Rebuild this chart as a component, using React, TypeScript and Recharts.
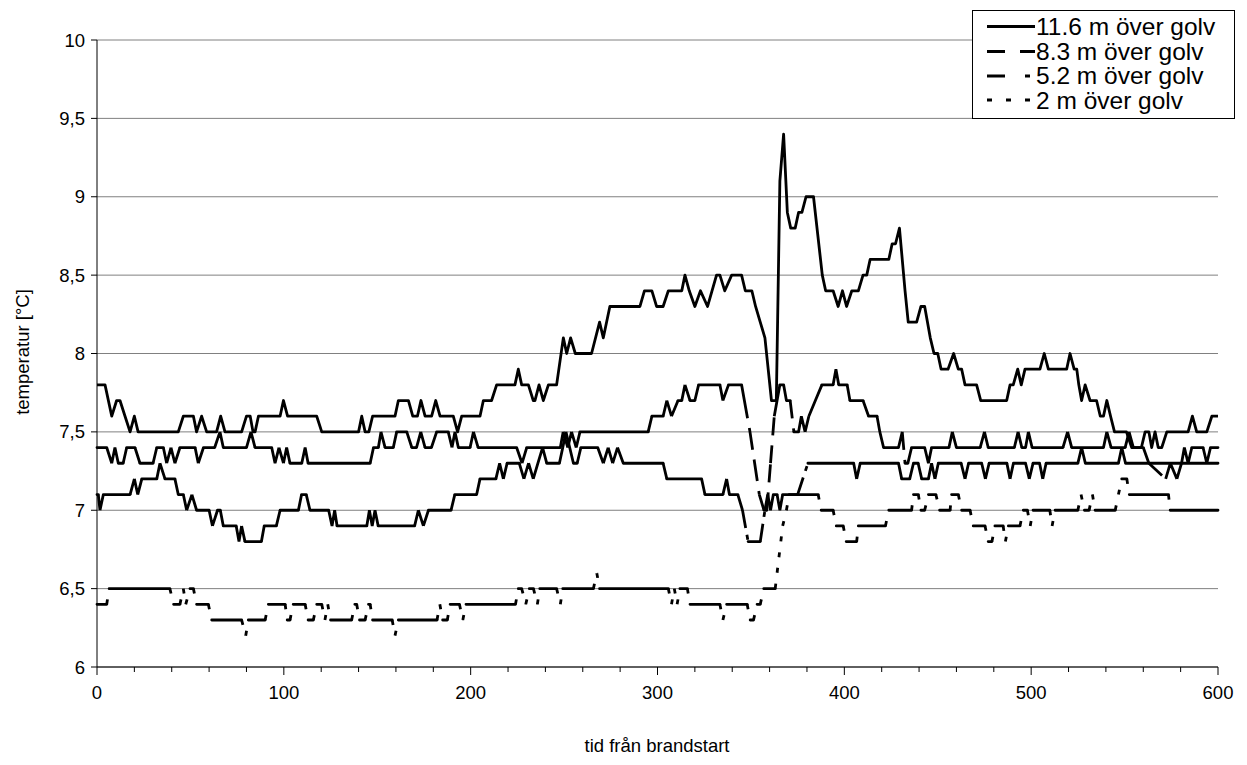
import { CartesianGrid, Line, LineChart, XAxis, YAxis } from "recharts"

const FONT = "'Liberation Sans', Arial, Helvetica, sans-serif"

const xTicks = [0, 20, 40, 60, 80, 100, 120, 140, 160, 180, 200, 220, 240, 260, 280, 300, 320, 340, 360, 380, 400, 420, 440, 460, 480, 500, 520, 540, 560, 580, 600]
const yTicks = [6, 6.5, 7, 7.5, 8, 8.5, 9, 9.5, 10]

const names = ["11.6 m över golv", "8.3 m över golv", "5.2 m över golv", "2 m över golv"]

// [time, temperature] at the corners of each trace
const h116: [number, number][] = [
  [0, 7.8], [4.3, 7.8], [7.9, 7.6], [10.5, 7.7], [12.3, 7.7], [15, 7.6], [17.7, 7.5], [20, 7.6], [22, 7.5], [43.5, 7.5],
  [46.2, 7.6], [51.6, 7.6], [53.3, 7.5], [56, 7.6], [58.7, 7.5], [64, 7.5], [66.2, 7.6], [68.5, 7.5], [77.4, 7.5], [80, 7.6],
  [82, 7.6], [83.5, 7.5], [84.6, 7.5], [86.4, 7.6], [98, 7.6], [99.8, 7.7], [102, 7.6], [117.6, 7.6], [120.3, 7.5], [140, 7.5],
  [141.7, 7.6], [143.5, 7.5], [145.5, 7.5], [147.5, 7.6], [159.5, 7.6], [161.3, 7.7], [166.7, 7.7], [169, 7.6], [171.5, 7.6], [173.4, 7.7],
  [175.6, 7.6], [179.1, 7.6], [181.3, 7.7], [183.6, 7.6], [190.7, 7.6], [193, 7.5], [195.2, 7.6], [205, 7.6], [206.8, 7.7], [211.2, 7.7],
  [213.9, 7.8], [223.7, 7.8], [225.5, 7.9], [227.3, 7.8], [230.9, 7.8], [233.5, 7.7], [234.4, 7.7], [236.6, 7.8], [238.9, 7.7], [241.6, 7.8],
  [246, 7.8], [249.6, 8.1], [251.4, 8.0], [253.5, 8.1], [256, 8.0], [264.7, 8.0], [269, 8.2], [271, 8.1], [274.5, 8.3], [290.6, 8.3],
  [293, 8.4], [297, 8.4], [299.5, 8.3], [303, 8.3], [305.8, 8.4], [313, 8.4], [314.7, 8.5], [317, 8.4], [320, 8.3], [323, 8.4],
  [326.8, 8.3], [331.6, 8.5], [333.4, 8.5], [336, 8.4], [339.7, 8.5], [345, 8.5], [347, 8.4], [350.5, 8.4], [352.5, 8.3], [355, 8.2],
  [357.5, 8.1], [361, 7.7], [363.6, 7.7], [365.5, 9.1], [367.5, 9.4], [369.5, 8.9], [371.3, 8.8], [373.7, 8.8], [375.5, 8.9], [377.3, 8.9],
  [379.5, 9.0], [383.5, 9.0], [388.2, 8.5], [390, 8.4], [394, 8.4], [396.7, 8.3], [399, 8.4], [401.2, 8.3], [404, 8.4], [407.5, 8.4],
  [410, 8.5], [412, 8.5], [413.8, 8.6], [423.8, 8.6], [425.6, 8.7], [427.4, 8.7], [429.5, 8.8], [432.5, 8.4], [434.2, 8.2], [438.7, 8.2],
  [441, 8.3], [443, 8.3], [446, 8.1], [448, 8.0], [450, 8.0], [451.8, 7.9], [455.5, 7.9], [458.5, 8.0], [461, 7.9], [462.8, 7.9],
  [464.6, 7.8], [470.8, 7.8], [473, 7.7], [486.9, 7.7], [488.7, 7.8], [490.4, 7.8], [492.8, 7.9], [494.7, 7.8], [496.7, 7.9], [504.7, 7.9],
  [507, 8.0], [509.2, 7.9], [519, 7.9], [520.8, 8.0], [523, 7.9], [524.4, 7.9], [525.5, 7.8], [527, 7.7], [528.9, 7.8], [531.5, 7.7],
  [535, 7.7], [537, 7.6], [538.7, 7.6], [540.5, 7.7], [542.5, 7.6], [544.6, 7.5], [551, 7.5], [553.8, 7.4], [559, 7.4], [561, 7.5],
  [563, 7.5], [564.5, 7.4], [566.3, 7.5], [568, 7.4], [569.9, 7.4], [572.6, 7.5], [584, 7.5], [586.3, 7.6], [588.6, 7.5], [594, 7.5],
  [596.7, 7.6], [600, 7.6],
]

const h83: [number, number][] = [
  [0, 7.4], [5.2, 7.4], [7.9, 7.3], [9.6, 7.4], [11.4, 7.3], [14, 7.3], [15.9, 7.4], [20.3, 7.4], [23, 7.3], [30, 7.3],
  [32, 7.4], [35.5, 7.4], [37.3, 7.3], [39.6, 7.4], [41.7, 7.3], [44.4, 7.4], [52.5, 7.4], [54.2, 7.3], [57, 7.4], [63, 7.4],
  [65.8, 7.5], [67.6, 7.4], [80, 7.4], [82.4, 7.5], [84.6, 7.4], [93.5, 7.4], [95.3, 7.3], [97.4, 7.4], [99.8, 7.3], [101.5, 7.4],
  [103.3, 7.3], [109.6, 7.3], [111.4, 7.4], [113, 7.3], [146.2, 7.3], [148, 7.4], [150.6, 7.4], [152, 7.5], [154.2, 7.4], [158.6, 7.4],
  [160.4, 7.5], [165.8, 7.5], [168.5, 7.4], [171, 7.4], [173.3, 7.5], [175.6, 7.4], [179, 7.4], [181.8, 7.5], [188, 7.5], [190, 7.4],
  [191.6, 7.5], [193.4, 7.4], [199.7, 7.4], [201.5, 7.5], [204, 7.4], [224.6, 7.4], [227.5, 7.3], [230, 7.4], [248, 7.4], [249.5, 7.5],
  [252, 7.4], [254, 7.5], [256.5, 7.4], [258.5, 7.5], [295, 7.5], [297, 7.6], [303, 7.6], [305, 7.7], [307.5, 7.6], [311, 7.7],
  [313, 7.7], [314.7, 7.8], [317.4, 7.7], [320, 7.7], [322, 7.8], [333.4, 7.8], [335, 7.7], [338, 7.8], [345, 7.8], [346.5, 7.7],
  [349.5, 7.5], [352, 7.3], [354.5, 7.1], [357, 7.0], [358.5, 7.0], [360.5, 7.3], [362.5, 7.6], [364, 7.7], [365.5, 7.8], [367.5, 7.8],
  [369, 7.7], [371, 7.7], [373, 7.5], [375.5, 7.5], [377, 7.6], [379, 7.5], [381, 7.6], [384.5, 7.7], [388, 7.8], [394, 7.8],
  [395.5, 7.9], [397, 7.8], [401.5, 7.8], [403, 7.7], [410, 7.7], [413, 7.6], [417.5, 7.6], [419, 7.5], [421, 7.4], [429, 7.4],
  [431, 7.5], [432.5, 7.3], [434, 7.3], [436, 7.4], [443, 7.4], [445, 7.3], [446.7, 7.4], [456, 7.4], [457.8, 7.5], [460, 7.4],
  [472.7, 7.4], [475, 7.5], [477, 7.4], [491, 7.4], [493, 7.5], [495, 7.4], [497, 7.4], [498.5, 7.5], [500.5, 7.4], [517, 7.4],
  [519.5, 7.5], [521.7, 7.4], [538.7, 7.4], [540.5, 7.5], [542.8, 7.4], [550.3, 7.4], [552.4, 7.5], [554.7, 7.4], [560, 7.4], [563, 7.3],
  [572, 7.2], [574.5, 7.3], [578, 7.2], [580.5, 7.3], [582, 7.4], [584, 7.3], [586, 7.4], [592, 7.4], [594, 7.3], [596, 7.4],
  [600, 7.4],
]

const h52: [number, number][] = [
  [0, 7.1], [0.7, 7.1], [1.6, 7.0], [3.4, 7.1], [17.7, 7.1], [20, 7.2], [21.8, 7.1], [24, 7.2], [32, 7.2], [33.7, 7.3],
  [36.4, 7.2], [41.7, 7.2], [43.5, 7.1], [46.2, 7.1], [48, 7.0], [50.8, 7.1], [53.3, 7.0], [60, 7.0], [61.8, 6.9], [64.5, 7.0],
  [66, 7.0], [67.6, 6.9], [74.5, 6.9], [76, 6.8], [77.4, 6.9], [79.2, 6.8], [88, 6.8], [89.5, 6.9], [96, 6.9], [98, 7.0],
  [107.8, 7.0], [109.5, 7.1], [112, 7.1], [114, 7.0], [124, 7.0], [125.8, 6.9], [127.2, 7.0], [128.5, 6.9], [144.4, 6.9], [145.8, 7.0],
  [147.3, 6.9], [148.8, 7.0], [150.5, 6.9], [170, 6.9], [172, 7.0], [174.7, 6.9], [177.4, 7.0], [189.5, 7.0], [191.5, 7.1], [203.2, 7.1],
  [205, 7.2], [213.5, 7.2], [215.5, 7.3], [217.5, 7.2], [219.5, 7.3], [226, 7.3], [228.5, 7.2], [231, 7.3], [233.5, 7.2], [236, 7.3],
  [238.5, 7.4], [240.7, 7.3], [247.5, 7.3], [249.3, 7.4], [251, 7.5], [253, 7.4], [255, 7.3], [257, 7.3], [259, 7.4], [268, 7.4],
  [271, 7.3], [273.6, 7.4], [276, 7.3], [278.6, 7.4], [281.7, 7.3], [303, 7.3], [305, 7.2], [323.6, 7.2], [325.4, 7.1], [335, 7.1],
  [337, 7.2], [338.5, 7.1], [343, 7.1], [345.5, 7.0], [348.5, 6.8], [355, 6.8], [357.5, 7.0], [359, 7.1], [360.5, 7.0], [362, 7.1],
  [364, 7.1], [365.5, 7.0], [367, 7.1], [375, 7.1], [380.5, 7.3], [405, 7.3], [406.6, 7.2], [408.5, 7.3], [429, 7.3], [430.7, 7.2],
  [435, 7.2], [437, 7.3], [439.5, 7.3], [441.4, 7.2], [445, 7.2], [446.7, 7.3], [448.5, 7.2], [450.3, 7.3], [462.5, 7.3], [464.6, 7.2],
  [466.5, 7.3], [473.5, 7.3], [475.5, 7.2], [477.5, 7.3], [487, 7.3], [488.7, 7.2], [490.5, 7.3], [497, 7.3], [499, 7.2], [501, 7.3],
  [504.5, 7.3], [506.2, 7.2], [508, 7.3], [525, 7.3], [527, 7.4], [529, 7.3], [546.7, 7.3], [548.5, 7.4], [550.5, 7.3], [600, 7.3],
]

const h2: [number, number][] = [
  [0, 6.4], [5.2, 6.4], [6.5, 6.5], [39, 6.5], [41, 6.4], [44.4, 6.4], [46.2, 6.5], [47.5, 6.4], [49.8, 6.5], [51.6, 6.5],
  [53.3, 6.4], [59.6, 6.4], [61.4, 6.3], [77.4, 6.3], [79.6, 6.2], [81, 6.3], [90, 6.3], [91.7, 6.4], [100.7, 6.4], [101.8, 6.3],
  [103.3, 6.3], [105, 6.4], [111.4, 6.4], [113, 6.3], [115.8, 6.3], [117.6, 6.4], [120.3, 6.4], [122, 6.3], [123.5, 6.4], [125, 6.3],
  [136.3, 6.3], [138, 6.4], [139, 6.4], [140.5, 6.3], [143.5, 6.3], [145.3, 6.4], [146.2, 6.4], [147.5, 6.3], [158, 6.3], [159.5, 6.2],
  [161.3, 6.3], [182, 6.3], [183.5, 6.4], [185, 6.3], [187.5, 6.3], [189, 6.4], [194, 6.4], [195.8, 6.3], [197.5, 6.4], [224, 6.4],
  [225.5, 6.5], [227.3, 6.5], [229.5, 6.4], [231.4, 6.5], [233.6, 6.5], [235.7, 6.4], [237, 6.5], [246, 6.5], [248, 6.4], [249.3, 6.5],
  [265.7, 6.5], [267.5, 6.6], [269, 6.5], [305.8, 6.5], [307.5, 6.4], [309, 6.5], [310.5, 6.4], [312, 6.5], [316, 6.5], [317.4, 6.4],
  [333.4, 6.4], [335, 6.3], [337, 6.4], [348, 6.4], [349.6, 6.3], [351.4, 6.3], [353.3, 6.4], [355, 6.4], [356.9, 6.5], [363, 6.5],
  [365, 6.7], [367, 6.9], [369, 7.0], [370.5, 7.1], [386, 7.1], [387.6, 7.0], [394, 7.0], [395.7, 6.9], [399.4, 6.9], [401, 6.8],
  [406.6, 6.8], [407.5, 6.9], [422, 6.9], [423.8, 7.0], [436, 7.0], [437, 7.1], [439.6, 7.1], [441, 7.0], [443, 7.0], [445, 7.1],
  [449, 7.1], [451, 7.0], [456.6, 7.0], [457.4, 7.1], [461, 7.1], [462.8, 7.0], [467.3, 7.0], [469, 6.9], [475.3, 6.9], [477, 6.8],
  [479, 6.8], [480.6, 6.9], [485, 6.9], [486.2, 6.8], [487.8, 6.9], [494, 6.9], [495.8, 7.0], [498, 7.0], [499.5, 6.9], [501, 7.0],
  [510, 7.0], [511.2, 6.9], [512.8, 7.0], [525, 7.0], [526.7, 7.1], [528.5, 7.0], [531, 7.0], [532.8, 7.1], [534.2, 7.0], [545, 7.0],
  [546.7, 7.1], [548.5, 7.2], [551.2, 7.2], [552.5, 7.1], [573.5, 7.1], [574.4, 7.0], [600, 7.0],
]

const series = [h116, h83, h52, h2]
// dash patterns: legend sample, and the rising/falling parts of the trace
const legendDash = ["", "18 15", "18 20 5 10", "5 14"]
const slopeDash = ["", "18 10", "18 7 5 7", "5 11"]

type Row = { t: number; v: number | null }

// every segment becomes its own sub-path so that the dash pattern restarts on each one;
// flat runs are drawn solid, steps get the series dash
function splitSegments(pts: [number, number][]) {
  const flat: Row[] = []
  const slope: Row[] = []
  for (let i = 0; i < pts.length - 1; i++) {
    const [t0, v0] = pts[i]
    const [t1, v1] = pts[i + 1]
    const target = v0 === v1 ? flat : slope
    target.push({ t: t0, v: v0 }, { t: t1, v: v1 }, { t: t1, v: null })
  }
  return { flat, slope }
}

const toRows = (pts: [number, number][]): Row[] => pts.map(([t, v]) => ({ t, v }))

function XTick({ x, y, payload }: any) {
  const major = payload.value % 100 === 0
  return (
    <g>
      <line x1={x} x2={x} y1={y} y2={y + (major ? 8 : 5)} stroke="#000" />
      {major && (
        <text x={x} y={y + 32} textAnchor="middle" fontSize={18.5} fontFamily={FONT} fill="#000">
          {payload.value}
        </text>
      )}
    </g>
  )
}

function YTick({ x, y, payload }: any) {
  return (
    <g>
      <line x1={x - 6} x2={x} y1={y} y2={y} stroke="#000" />
      <text x={x - 12} y={y + 6.5} textAnchor="end" fontSize={18.5} fontFamily={FONT} fill="#000">
        {String(payload.value).replace(".", ",")}
      </text>
    </g>
  )
}

export default function App() {
  const lines: any[] = []
  series.forEach((s, i) => {
    if (i === 0) {
      lines.push(
        <Line
          key="s0"
          data={toRows(s)}
          dataKey="v"
          name={names[0]}
          type="linear"
          stroke="#000"
          strokeWidth={2.8}
          strokeLinejoin="round"
          dot={false}
          activeDot={false}
          isAnimationActive={false}
        />
      )
      return
    }
    const { flat, slope } = splitSegments(s)
    lines.push(
      <Line
        key={`f${i}`}
        data={flat}
        dataKey="v"
        name={names[i]}
        type="linear"
        stroke="#000"
        strokeWidth={2.8}
        strokeLinecap="round"
        dot={false}
        activeDot={false}
        isAnimationActive={false}
      />,
      <Line
        key={`s${i}`}
        data={slope}
        dataKey="v"
        name={names[i]}
        legendType="none"
        type="linear"
        stroke="#000"
        strokeWidth={2.8}
        strokeDasharray={slopeDash[i]}
        dot={false}
        activeDot={false}
        isAnimationActive={false}
      />
    )
  })

  return (
    <div style={{ position: "absolute", left: 0, top: 0, width: 1247, height: 765, background: "#fff" }}>
      <LineChart width={1247} height={765} margin={{ top: 40, right: 29, bottom: 0, left: 0 }}>
        <CartesianGrid vertical={false} stroke="#808080" strokeWidth={1} />
        <XAxis
          dataKey="t"
          type="number"
          domain={[0, 600]}
          ticks={xTicks}
          interval={0}
          height={98}
          tickSize={0}
          tickMargin={0}
          tickLine={false}
          tick={<XTick />}
          axisLine={{ stroke: "#000" }}
        />
        <YAxis
          type="number"
          domain={[6, 10]}
          ticks={yTicks}
          interval={0}
          width={97}
          tickSize={0}
          tickMargin={0}
          tickLine={false}
          tick={<YTick />}
          axisLine={{ stroke: "#000" }}
        />
        {lines}
      </LineChart>
      <svg
        width={1247}
        height={765}
        style={{ position: "absolute", left: 0, top: 0, pointerEvents: "none" }}
        fontFamily={FONT}
      >
        <text x={657} y={752} textAnchor="middle" fontSize={18.5} fill="#000">
          tid från brandstart
        </text>
        <text x={29} y={352} textAnchor="middle" fontSize={18.5} fill="#000" transform="rotate(-90 29 352)">
          temperatur [°C]
        </text>
        <g transform="translate(972,10)">
          <rect x={0.5} y={0.5} width={262} height={108} fill="#fff" stroke="#000" />
          {names.map((n, i) => {
            const ly = [16.5, 41.5, 66, 90][i]
            const ty = [25, 49.5, 74, 98.5][i]
            return (
              <g key={n}>
                <line x1={15} x2={63} y1={ly} y2={ly} stroke="#000" strokeWidth={3} strokeDasharray={legendDash[i] || undefined} />
                <text x={64} y={ty} fontSize={24.5} fill="#000">
                  {n}
                </text>
              </g>
            )
          })}
        </g>
      </svg>
    </div>
  )
}
